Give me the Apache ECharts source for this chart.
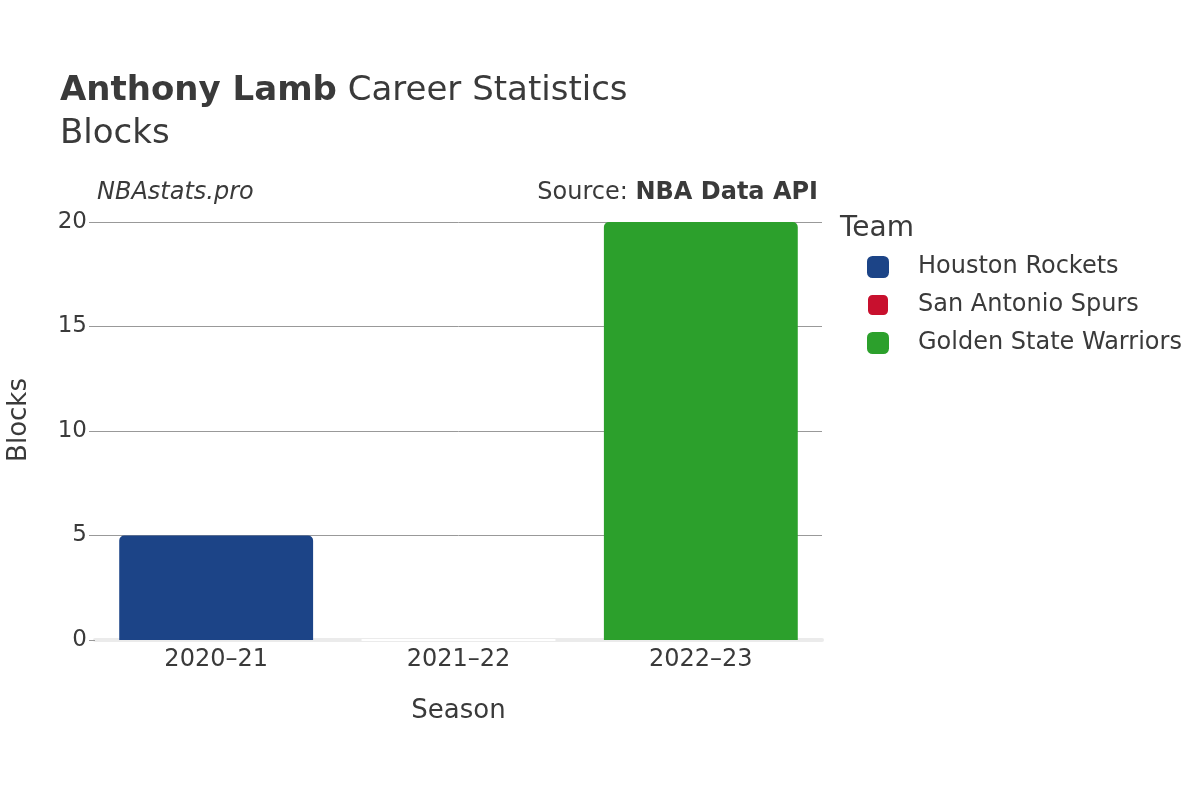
<!DOCTYPE html>
<html>
<head>
<meta charset="utf-8">
<script src="https://cdn.jsdelivr.net/npm/echarts@6/dist/echarts.min.js"></script>
<style>html,body{margin:0;padding:0;background:#fff}#c{width:1200px;height:800px}</style>
</head>
<body>
<div id="c"></div>
<script>
var seasons = ['2020–21', '2021–22', '2022–23'];
var teams = ['Houston Rockets', 'San Antonio Spurs', 'Golden State Warriors'];
var teamColors = ['#1c4487', '#c8102e', '#2ca02c'];
var houstonBlocks = [5, '-', '-'];
var spursBlocks = ['-', 0, '-'];
var warriorsBlocks = ['-', '-', 20];
var yTicks = [0, 5, 10, 15, 20];

var font = 'DejaVu Sans';
var txt = '#3a3a3a';
var seriesData = [houstonBlocks, spursBlocks, warriorsBlocks];

var chart = echarts.init(document.getElementById('c'));
chart.setOption({
  animation: false,
  textStyle: { fontFamily: font },
  title: [
    { text: '{b|Anthony Lamb}{n| Career Statistics}', left: 55, top: 69,
      textStyle: { fontWeight: 'normal', rich: {
        b: { fontFamily: font, fontSize: 34, fontWeight: 'bold', color: txt },
        n: { fontFamily: font, fontSize: 34, fontWeight: 'normal', color: txt } } } },
    { text: 'Blocks', left: 55, top: 112,
      textStyle: { fontFamily: font, fontSize: 34, fontWeight: 'normal', color: txt } },
    { text: 'NBAstats.pro', left: 92, top: 176,
      textStyle: { fontFamily: font, fontSize: 24, fontStyle: 'italic', fontWeight: 'normal', color: txt } },
    { text: '{n|Source: }{b|NBA Data API}', right: 377, top: 176,
      textStyle: { fontWeight: 'normal', rich: {
        n: { fontFamily: font, fontSize: 24, fontWeight: 'normal', color: txt },
        b: { fontFamily: font, fontSize: 24, fontWeight: 'bold', color: txt } } } },
    { text: 'Team', left: 835, top: 210,
      textStyle: { fontFamily: font, fontSize: 28, fontWeight: 'normal', color: txt } }
  ],
  legend: {
    orient: 'vertical', left: 861, top: 250,
    data: teams,
    icon: 'roundRect', itemWidth: 22, itemHeight: 22, itemGap: 14,
    textStyle: { fontFamily: font, fontSize: 24, color: txt, padding: [0, 0, 0, 24] }
  },
  grid: { left: 95, right: 378, top: 222, bottom: 160, outerBoundsMode: 'none', containLabel: false },
  xAxis: {
    type: 'category', data: seasons,
    name: 'Season', nameLocation: 'middle', nameGap: 58,
    nameTextStyle: { fontFamily: font, fontSize: 26, color: txt },
    axisLine: { show: true, lineStyle: { color: '#ebebeb', width: 4 } },
    axisTick: { show: false },
    axisLabel: { fontFamily: font, fontSize: 24, color: txt, margin: 8 }
  },
  yAxis: {
    type: 'value', min: 0, max: 20, interval: 5,
    name: 'Blocks', nameLocation: 'middle', nameGap: 63,
    nameTextStyle: { fontFamily: font, fontSize: 26, color: txt, padding: [0, 0, 0, 22] },
    axisLine: { show: false },
    axisTick: { show: true, length: 6, lineStyle: { color: '#999' } },
    splitLine: { lineStyle: { color: '#999', width: 1 } },
    axisLabel: { fontFamily: font, fontSize: 23, color: txt, margin: 8 }
  },
  series: teams.map(function (t, i) {
    return {
      name: t, type: 'bar', stack: 'all', data: seriesData[i],
      barWidth: '80%',
      itemStyle: i === 1
        ? { color: teamColors[i], borderColor: '#fff', borderWidth: 2 }
        : { color: teamColors[i], borderRadius: [5, 5, 0, 0] }
    };
  })
});
</script>
</body>
</html>
